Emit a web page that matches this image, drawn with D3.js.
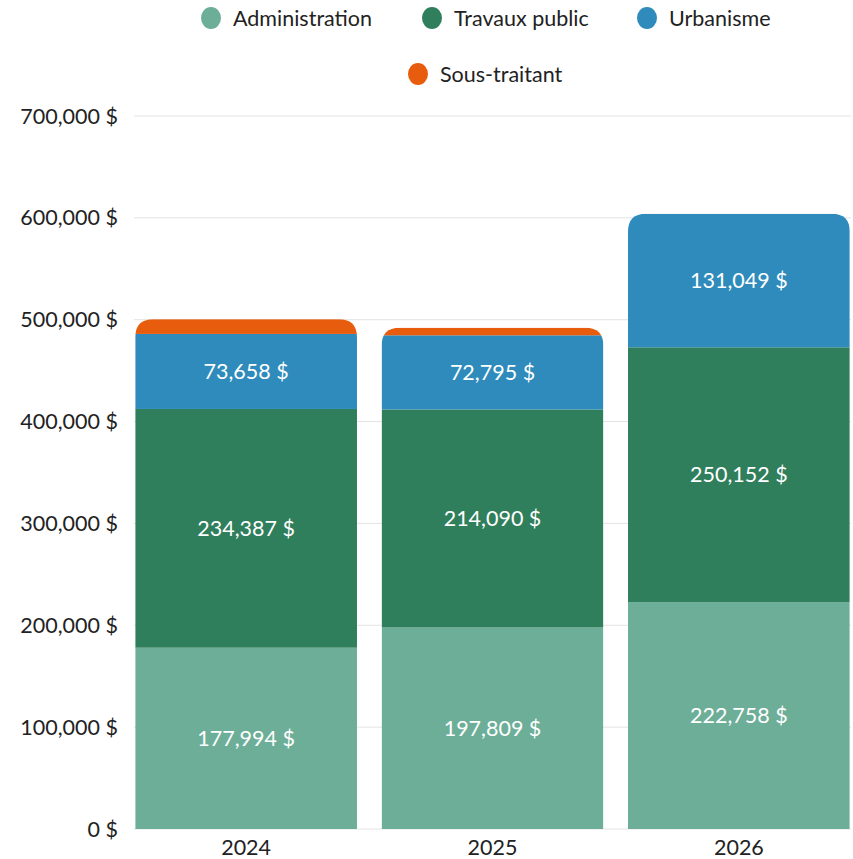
<!DOCTYPE html>
<html>
<head>
<meta charset="utf-8">
<script src="https://cdn.jsdelivr.net/npm/d3@7"></script>
<style>
  body { margin: 0; background: #fff; }
  svg { font-family: Lato, "Noto Sans", sans-serif; }
</style>
</head>
<body>
<div id="chart"></div>
<script>
// data
let years = ["2024", "2025", "2026"],
    keys = ["Administration", "Travaux public", "Urbanisme", "Sous-traitant"],
    administration = [177994, 197809, 222758],
    travaux = [234387, 214090, 250152],
    urbanisme = [73658, 72795, 131049],
    sousTraitant = [14500, 7500, 0],
    yTicks = [0, 100000, 200000, 300000, 400000, 500000, 600000, 700000],
    colors = ["#6DAE98", "#2F7E5C", "#2E8BBB", "#E85C0D"];

let width = 853, height = 859,
    margin = {top: 116, right: 2, bottom: 30, left: 134};

let rows = years.map((y, i) => ({
  year: y,
  "Administration": administration[i],
  "Travaux public": travaux[i],
  "Urbanisme": urbanisme[i],
  "Sous-traitant": sousTraitant[i]
}));

let series = d3.stack().keys(keys)(rows);

let x = d3.scaleBand()
    .domain(years)
    .range([margin.left, width - margin.right])
    .paddingInner(0.1)
    .paddingOuter(0.005);
let y = d3.scaleLinear()
    .domain([0, 700000])
    .range([height - margin.bottom, margin.top]);
let color = d3.scaleOrdinal().domain(keys).range(colors);
let fmt = v => d3.format(",")(Math.round(v)) + " $";
let fs = 21.5;

const svg = d3.select("#chart").append("svg")
    .attr("width", width).attr("height", height);

// grid
svg.append("g")
  .selectAll("line")
  .data(yTicks)
  .join("line")
    .attr("x1", margin.left).attr("x2", width - margin.right)
    .attr("y1", d => y(d)).attr("y2", d => y(d))
    .attr("stroke", "#e3e3e3").attr("stroke-width", 1);

// y labels
svg.append("g")
  .selectAll("text")
  .data(yTicks)
  .join("text")
    .attr("x", 118).attr("y", d => y(d))
    .attr("dy", "0.35em")
    .attr("text-anchor", "end")
    .attr("font-size", fs)
    .attr("fill", "#222")
    .text(fmt);

// clip each column to a rounded-top shape
let r = 18;
let defs = svg.append("defs");
rows.forEach((d, i) => {
  let total = d3.sum(keys, k => d[k]);
  let x0 = x(d.year), x1 = x0 + x.bandwidth(), yt = y(total), yb = y(0);
  defs.append("clipPath").attr("id", "clip" + i)
    .append("path")
    .attr("d", `M${x0},${yb}V${yt + r}Q${x0},${yt} ${x0 + r},${yt}H${x1 - r}Q${x1},${yt} ${x1},${yt + r}V${yb}Z`);
});

let col = svg.append("g").selectAll("g")
  .data(rows)
  .join("g")
    .attr("clip-path", (d, i) => `url(#clip${i})`);

col.selectAll("rect")
  .data((d, i) => series.map(s => ({key: s.key, v: s[i], year: d.year})))
  .join("rect")
    .attr("x", d => x(d.year))
    .attr("width", x.bandwidth())
    .attr("y", d => y(d.v[1]))
    .attr("height", d => y(d.v[0]) - y(d.v[1]))
    .attr("fill", d => color(d.key));

// value labels (skip the thin orange layer)
svg.append("g").selectAll("text")
  .data(series.slice(0, 3).flatMap(s => s.map((v, i) => ({v, year: years[i]}))))
  .join("text")
    .attr("x", d => x(d.year) + x.bandwidth() / 2)
    .attr("y", d => (y(d.v[0]) + y(d.v[1])) / 2)
    .attr("dy", "0.35em")
    .attr("text-anchor", "middle")
    .attr("font-size", fs)
    .attr("fill", "#fff")
    .text(d => fmt(d.v[1] - d.v[0]));

// x labels
svg.append("g").selectAll("text")
  .data(years)
  .join("text")
    .attr("x", d => x(d) + x.bandwidth() / 2)
    .attr("y", height - margin.bottom + 18)
    .attr("dy", "0.35em")
    .attr("text-anchor", "middle")
    .attr("font-size", fs)
    .attr("fill", "#222")
    .text(d => d);

// legend
let legendPos = [
  {key: "Administration", cx: 211, cy: 18},
  {key: "Travaux public", cx: 432, cy: 18},
  {key: "Urbanisme", cx: 647, cy: 18},
  {key: "Sous-traitant", cx: 418, cy: 74}
];
let lg = svg.append("g").selectAll("g")
  .data(legendPos)
  .join("g");
lg.append("ellipse")
  .attr("cx", d => d.cx).attr("cy", d => d.cy).attr("rx", 10).attr("ry", 11)
  .attr("fill", d => color(d.key));
lg.append("text")
  .attr("x", d => d.cx + 22).attr("y", d => d.cy)
  .attr("dy", "0.35em")
  .attr("font-size", fs)
  .attr("fill", "#222")
  .text(d => d.key);
</script>
</body>
</html>
